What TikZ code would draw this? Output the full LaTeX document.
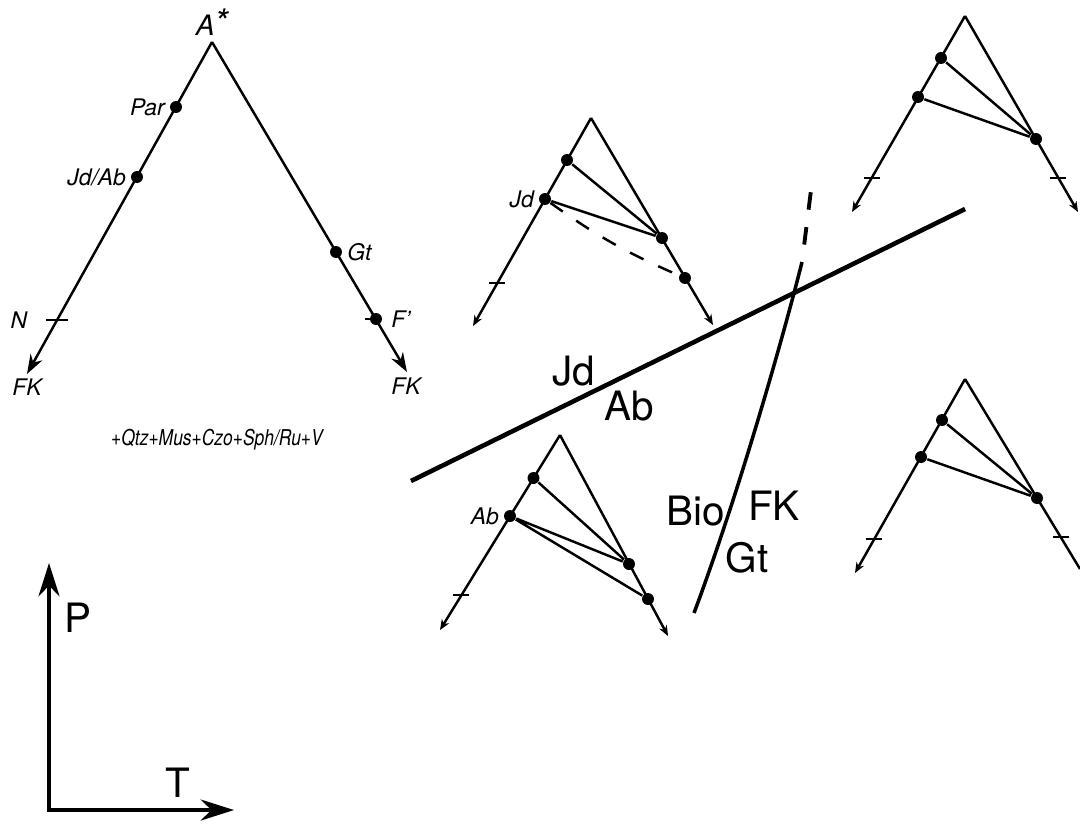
\documentclass[tikz,border=0pt]{standalone}
\usepackage{fontspec}
\setmainfont{TeX Gyre Heros}
\usetikzlibrary{arrows.meta,positioning}

\begin{document}
\begin{tikzpicture}[x=0.01cm, y=-0.01cm,
        dot/.style={circle, fill=black, inner sep=0pt, minimum size=3.4pt},
        leg/.style={line width=0.7pt},
        lbl/.style={font=\fontsize{6.5}{7}\selectfont\itshape, inner sep=0.8pt},
        big/.style={font=\fontsize{11.5}{12}\selectfont, inner sep=0pt},
        tip/.style={-{Stealth[length=5.5pt, width=3.8pt]}},
        smalltip/.style={-{Stealth[length=3pt, width=2.4pt]}},
        axis/.style={line width=1pt, {Stealth[length=9.5pt, width=6pt]}-{Stealth[length=9.5pt, width=6pt]}},
        ]
    \useasboundingbox (0,0) rectangle (1080,823);

    % main triangle
    \coordinate (A) at (212,42);
    \coordinate (lend) at (27,374);
    \coordinate (rend) at (407,372);
    \coordinate (n) at (57,320);
    \node (par) [dot] at (176,107) {};
    \node (jdab) [dot] at (137,177) {};
    \node (gt) [dot] at (336,252) {};
    \node (fp) [dot] at (376,319) {};

    \draw[leg, tip] (A) -- (lend);
    \draw[leg, tip] (A) -- (rend);
    \draw[leg] ([xshift=-3pt]n) -- ([xshift=3pt]n);
    \draw[leg] ([xshift=-3pt]fp.center) -- (fp.center);

    \node (astar) [lbl, font=\fontsize{8}{9}\selectfont\itshape] at (212,22) {A\raisebox{0.1ex}{\fontsize{10}{10}\selectfont *}};
    \node (lpar) [lbl, left=0.3pt of par] {Par};
    \node (ljdab) [lbl, left=0.3pt of jdab] {Jd/Ab};
    \node (lgt) [lbl, right=0.3pt of gt] {Gt};
    \node (lfp) [lbl, right=1.5pt of fp] {F'};
    \node (ln) [lbl] at (19,320) {N};
    \node (lfk1) [lbl] at (27,387) {FK};
    \node (lfk2) [lbl] at (406,386) {FK};
    \node (mix) [lbl, font=\fontsize{6.2}{7}\selectfont\itshape] at (217,440) {\scalebox{0.8}[1]{+Qtz+Mus+Czo+Sph/Ru+V}};

    % Jd/Ab line and Bio/FK-Gt curve
    \coordinate (ja1) at (411,481);
    \coordinate (ja2) at (965,209);
    \draw[line width=1.3pt] (ja1) -- (ja2);
    \node (ljd) [big] at (574,371) {Jd};
    \node (lab) [big] at (629,406) {Ab};

    \coordinate (bf1) at (694,613);
    \coordinate (bf2) at (802,262);
    \coordinate (bf3) at (811,190);
    \draw[line width=1pt] (bf1) .. controls (740,490) and (785,330) .. (bf2);
    \draw[line width=1.1pt, dash pattern=on 5pt off 5pt, dash phase=5pt] (bf2) -- (bf3);
    \node (lbio) [big] at (696,511) {Bio};
    \node (lfk) [big] at (774,506) {FK};
    \node (lgt2) [big] at (747,558) {Gt};

    % axes
    \coordinate (o) at (49,810);
    \coordinate (py) at (49,563);
    \coordinate (tx) at (234,810);
    \draw[axis] (py) -- (o) -- (tx);
    \node (lp) [big] at (78,618) {P};
    \node (lt) [big] at (178,783) {T};

    % top middle
    \coordinate (a1) at (591,118);
    \coordinate (a1l) at (473,326);
    \coordinate (a1r) at (713,325);
    \coordinate (a1t) at (497,283);
    \node (u1) [dot] at (567,160) {};
    \node (jd1) [dot] at (545,199) {};
    \node (r11) [dot] at (662,238) {};
    \node (r12) [dot] at (685,278) {};
    \draw[leg, smalltip] (a1) -- (a1l);
    \draw[leg, smalltip] (a1) -- (a1r);
    \draw[leg] ([xshift=-2.2pt]a1t) -- ([xshift=2.2pt]a1t);
    \draw[leg] (u1) -- (r11) (jd1) -- (r11);
    \draw[leg, dash pattern=on 4.3pt off 4.6pt] (jd1) to[bend right=6] (r12);
    \node (ljd1) [lbl, left=0.3pt of jd1] {Jd};

    % top right
    \coordinate (a2) at (965,16);
    \coordinate (a2l) at (852,212);
    \coordinate (a2r) at (1078,212);
    \coordinate (a2tl) at (872,178);
    \coordinate (a2tr) at (1058,178);
    \node (u2) [dot] at (941,58) {};
    \node (l2) [dot] at (918,97) {};
    \node (r2) [dot] at (1036,139) {};
    \draw[leg, smalltip] (a2) -- (a2l);
    \draw[leg, smalltip] (a2) -- (a2r);
    \draw[leg] ([xshift=-2.2pt]a2tl) -- ([xshift=2.2pt]a2tl);
    \draw[leg] ([xshift=-2.2pt]a2tr) -- ([xshift=2.2pt]a2tr);
    \draw[leg] (u2) -- (r2) (l2) -- (r2);

    % bottom middle
    \coordinate (a3) at (560,435);
    \coordinate (a3l) at (440,630);
    \coordinate (a3r) at (668,636);
    \coordinate (a3t) at (461,595);
    \node (u3) [dot] at (533.5,478) {};
    \node (ab3) [dot] at (510,516) {};
    \node (r31) [dot] at (629,564) {};
    \node (r32) [dot] at (648,599) {};
    \draw[leg, smalltip] (a3) -- (a3l);
    \draw[leg, smalltip] (a3) -- (a3r);
    \draw[leg] ([xshift=-2.2pt]a3t) -- ([xshift=2.2pt]a3t);
    \draw[leg] (u3) -- (r31) (ab3) -- (r31) (ab3) -- (r32);
    \node (lab3) [lbl, left=0.3pt of ab3] {Ab};

    % bottom right
    \coordinate (a4) at (965,379);
    \coordinate (a4l) at (855,573);
    \coordinate (a4r) at (1080,569);
    \coordinate (a4tl) at (874,539);
    \coordinate (a4tr) at (1061,537);
    \node (u4) [dot] at (942,420) {};
    \node (l4) [dot] at (921,457) {};
    \node (r4) [dot] at (1037,498) {};
    \draw[leg, smalltip] (a4) -- (a4l);
    \draw[leg] (a4) -- (a4r);
    \draw[leg] ([xshift=-2.2pt]a4tl) -- ([xshift=2.2pt]a4tl);
    \draw[leg] ([xshift=-2.2pt]a4tr) -- ([xshift=2.2pt]a4tr);
    \draw[leg] (u4) -- (r4) (l4) -- (r4);
\end{tikzpicture}
\end{document}
